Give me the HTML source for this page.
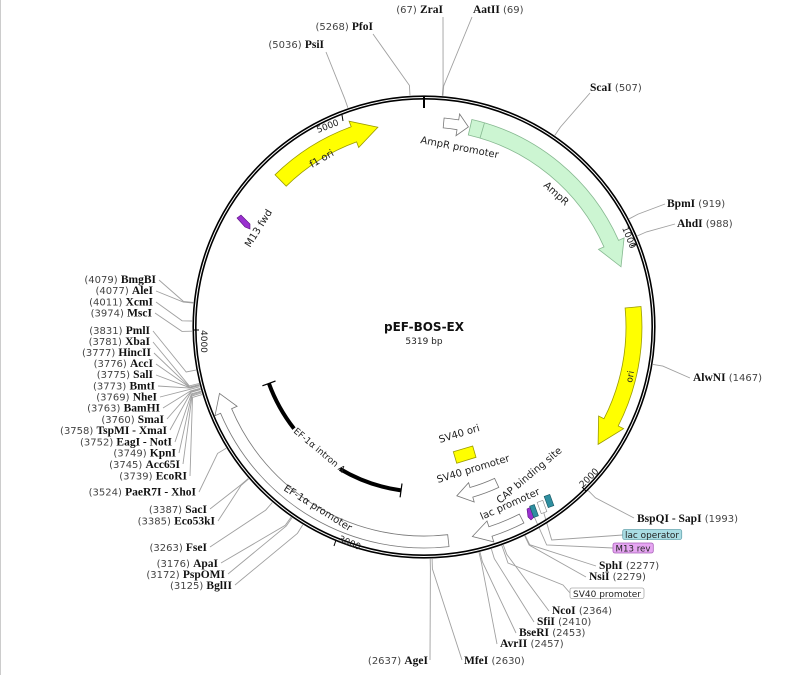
<!DOCTYPE html>
<html><head><meta charset="utf-8"><style>
html,body{margin:0;padding:0;background:#fff;}
svg{display:block;}
.n{font-family:"Liberation Serif",serif;font-weight:bold;font-size:11.5px;fill:#111;}
.p{font-family:"DejaVu Sans",sans-serif;font-size:10px;fill:#444;}
.f{font-family:"DejaVu Sans",sans-serif;font-size:10px;fill:#222;}
.b{font-family:"DejaVu Sans",sans-serif;font-size:9px;fill:#222;}
.t{font-family:"DejaVu Sans",sans-serif;font-size:9px;fill:#222;}
</style></head><body>
<svg id="s" width="800" height="675" viewBox="0 0 800 675" xmlns="http://www.w3.org/2000/svg">
<rect x="0" y="0" width="800" height="675" fill="#fff"/>
<line x1="0.5" y1="0" x2="0.5" y2="675" stroke="#ccc"/>
<g id="leaders" stroke="#a0a0a0" stroke-width="0.9" fill="none"></g>
<circle cx="424" cy="327" r="229.5" fill="none" stroke="#000" stroke-width="4.2"/>
<circle cx="424" cy="327" r="229.5" fill="none" stroke="#fff" stroke-width="1"/>
<line x1="424" y1="97" x2="424" y2="108" stroke="#000" stroke-width="2"/>
<text class="t" transform="translate(318,133) rotate(-21)">5000</text>
<line x1="342" y1="115" x2="343" y2="121" stroke="#000"/>
<text class="t" transform="translate(622,228) rotate(68)">1000</text>
<line x1="631" y1="246" x2="637" y2="244" stroke="#000"/>
<text class="t" transform="translate(583,488) rotate(-45)">2000</text>
<line x1="586" y1="491" x2="582" y2="487" stroke="#000"/>
<text class="t" transform="translate(338,541) rotate(23)">3000</text>
<line x1="336" y1="540" x2="334" y2="546" stroke="#000"/>
<text class="t" transform="translate(201,330) rotate(90)">4000</text>
<line x1="194" y1="330" x2="199" y2="330" stroke="#000"/>
<path d="M275,174.8 A213,213 0 0 1 351.2,126.8 L349.1,121.2 L377.9,127.2 L358.7,147.5 L356.6,141.9 A197,197 0 0 0 286.2,186.2 Z" fill="#ffff00" stroke="#9a9a00" stroke-width="0.8"/>
<text class="f" transform="translate(312,168) rotate(-30)">f1 ori</text>
<path d="M444.1,118 A210,210 0 0 1 458.7,119.9 L459.6,114 L468.4,126.9 L456,135.7 L457,129.7 A200,200 0 0 0 443.2,127.9 Z" fill="#fff" stroke="#777" stroke-width="0.8"/>
<text class="f" transform="translate(420,143) rotate(11)">AmpR promoter</text>
<path d="M471.9,119.5 A213,213 0 0 1 618.6,240.4 L624.1,237.9 L621,266.8 L598.5,249.3 L604,246.9 A197,197 0 0 0 468.3,135 Z" fill="#ccf5d2" stroke="#86b890" stroke-width="0.8"/>
<line x1="480" y1="138.1" x2="484.5" y2="122.8" stroke="#86b890" stroke-width="0.8"/>
<text class="f" transform="translate(543,186) rotate(42)">AmpR</text>
<path d="M641,306.5 A218,218 0 0 1 618.2,426 L623.6,428.7 L598.1,444.4 L598.6,416 L604,418.7 A202,202 0 0 0 625.1,308 Z" fill="#ffff00" stroke="#9a9a00" stroke-width="0.8"/>
<text class="t" transform="translate(632,383) rotate(-80)">ori</text>
<polygon points="453.3,451.7 472.7,446 476,457.3 456.7,463.3" fill="#ffff00" stroke="#9a9a00" stroke-width="0.8"/>
<text class="f" transform="translate(440,443) rotate(-17)">SV40 ori</text>
<path d="M498.8,487.4 A177,177 0 0 1 472.8,497.1 L474.2,502 L456.8,495.8 L468.6,482.7 L470,487.5 A167,167 0 0 0 494.6,478.4 Z" fill="#fff" stroke="#777" stroke-width="0.8"/>
<text class="f" transform="translate(438,483) rotate(-17)">SV40 promoter</text>
<path d="M523.9,523 A220,220 0 0 1 492,536.2 L493.8,541.9 L472.4,536.5 L487,521 L488.9,526.7 A210,210 0 0 0 519.3,514.1 Z" fill="#fff" stroke="#777" stroke-width="0.8"/>
<text class="f" transform="translate(482,520) rotate(-24)">lac promoter</text>
<text class="f" transform="translate(500,504) rotate(-40)">CAP binding site</text>
<polygon points="527,509 531,507 534,517 531,520 528,517" fill="#9a30d0" stroke="#5a1080" stroke-width="0.6"/>
<rect x="531.5" y="505" width="5" height="12" transform="rotate(-20 534 511)" fill="#2f8fa0" stroke="#15535e" stroke-width="0.6"/>
<rect x="539" y="501" width="6" height="12" transform="rotate(-20 542 507)" fill="#fff" stroke="#888" stroke-width="0.6"/>
<rect x="546" y="495" width="6" height="12" transform="rotate(-20 549 501)" fill="#2f8fa0" stroke="#15535e" stroke-width="0.6"/>
<path d="M449,546.6 A221,221 0 0 1 220.6,413.3 L215,415.7 L219.5,393.4 L237.1,406.3 L231.6,408.7 A209,209 0 0 0 447.7,534.7 Z" fill="#fff" stroke="#777" stroke-width="0.8"/>
<text class="f" transform="translate(283,490) rotate(32)">EF-1α promoter</text>
<g stroke="#000" fill="none">
<path d="M268.9,383.4 A165,165 0 0 0 294,428.6" stroke-width="4"/>
<path d="M340,469 A165,165 0 0 0 401,490.4" stroke-width="4"/>
<line x1="275.5" y1="381" x2="262.4" y2="385.8" stroke-width="1.2"/>
<line x1="402" y1="483.5" x2="400.1" y2="497.3" stroke-width="1.2"/>
</g>
<text class="b" transform="translate(293,432) rotate(40)">EF-1α intron A</text>
<polygon points="237,218 241,215 250,224 250,229 245,227" fill="#9a30d0" stroke="#5a1080" stroke-width="0.6"/>
<text class="f" transform="translate(250,248) rotate(-58)">M13 fwd</text>
<text x="424" y="331" text-anchor="middle" font-family="DejaVu Sans,sans-serif" font-weight="bold" font-size="12" fill="#111">pEF-BOS-EX</text>
<text x="424" y="344" text-anchor="middle" class="t">5319 bp</text>

<text x="324" y="48" text-anchor="end"><tspan class="p">(5036) </tspan><tspan class="n">PsiI</tspan></text>
<text x="373" y="30" text-anchor="end"><tspan class="p">(5268) </tspan><tspan class="n">PfoI</tspan></text>
<text x="443" y="13" text-anchor="end"><tspan class="p">(67) </tspan><tspan class="n">ZraI</tspan></text>
<text x="473" y="13"><tspan class="n">AatII</tspan><tspan class="p"> (69)</tspan></text>
<text x="590" y="91"><tspan class="n">ScaI</tspan><tspan class="p"> (507)</tspan></text>
<text x="667" y="207"><tspan class="n">BpmI</tspan><tspan class="p"> (919)</tspan></text>
<text x="677" y="227"><tspan class="n">AhdI</tspan><tspan class="p"> (988)</tspan></text>
<text x="693" y="381"><tspan class="n">AlwNI</tspan><tspan class="p"> (1467)</tspan></text>
<text x="637" y="522"><tspan class="n">BspQI - SapI</tspan><tspan class="p"> (1993)</tspan></text>
<rect x="622.7" y="529.5" width="59" height="10" rx="2" fill="#a9dce3" stroke="#6aa6b0" stroke-width="0.8"/>
<text x="625" y="537.8" class="b" textLength="54" lengthAdjust="spacingAndGlyphs">lac operator</text>
<rect x="613" y="543" width="40.3" height="10" rx="2" fill="#e6a6f2" stroke="#a860b8" stroke-width="0.8"/>
<text x="615.5" y="551.5" class="b" textLength="35" lengthAdjust="spacingAndGlyphs">M13 rev</text>
<text x="599" y="569"><tspan class="n">SphI</tspan><tspan class="p"> (2277)</tspan></text>
<text x="589" y="580"><tspan class="n">NsiI</tspan><tspan class="p"> (2279)</tspan></text>
<rect x="570" y="588" width="74" height="10.5" rx="2" fill="#fff" stroke="#aaa" stroke-width="0.8"/>
<text x="573" y="596.8" class="b" textLength="68" lengthAdjust="spacingAndGlyphs">SV40 promoter</text>
<text x="552" y="614"><tspan class="n">NcoI</tspan><tspan class="p"> (2364)</tspan></text>
<text x="537" y="625"><tspan class="n">SfiI</tspan><tspan class="p"> (2410)</tspan></text>
<text x="519" y="636"><tspan class="n">BseRI</tspan><tspan class="p"> (2453)</tspan></text>
<text x="500" y="647"><tspan class="n">AvrII</tspan><tspan class="p"> (2457)</tspan></text>
<text x="464" y="664"><tspan class="n">MfeI</tspan><tspan class="p"> (2630)</tspan></text>
<text x="428" y="664" text-anchor="end"><tspan class="p">(2637) </tspan><tspan class="n">AgeI</tspan></text>

<g text-anchor="end">
<text x="156" y="283"><tspan class="p">(4079) </tspan><tspan class="n">BmgBI</tspan></text>
<text x="153" y="294"><tspan class="p">(4077) </tspan><tspan class="n">AleI</tspan></text>
<text x="153" y="305.5"><tspan class="p">(4011) </tspan><tspan class="n">XcmI</tspan></text>
<text x="152" y="316.5"><tspan class="p">(3974) </tspan><tspan class="n">MscI</tspan></text>
<text x="150" y="334"><tspan class="p">(3831) </tspan><tspan class="n">PmlI</tspan></text>
<text x="150" y="345"><tspan class="p">(3781) </tspan><tspan class="n">XbaI</tspan></text>
<text x="151" y="356"><tspan class="p">(3777) </tspan><tspan class="n">HincII</tspan></text>
<text x="153" y="367"><tspan class="p">(3776) </tspan><tspan class="n">AccI</tspan></text>
<text x="153" y="378"><tspan class="p">(3775) </tspan><tspan class="n">SalI</tspan></text>
<text x="155" y="389.5"><tspan class="p">(3773) </tspan><tspan class="n">BmtI</tspan></text>
<text x="157" y="400.5"><tspan class="p">(3769) </tspan><tspan class="n">NheI</tspan></text>
<text x="160" y="411.5"><tspan class="p">(3763) </tspan><tspan class="n">BamHI</tspan></text>
<text x="164" y="423"><tspan class="p">(3760) </tspan><tspan class="n">SmaI</tspan></text>
<text x="167" y="434"><tspan class="p">(3758) </tspan><tspan class="n">TspMI - XmaI</tspan></text>
<text x="172" y="445.5"><tspan class="p">(3752) </tspan><tspan class="n">EagI - NotI</tspan></text>
<text x="176" y="456.5"><tspan class="p">(3749) </tspan><tspan class="n">KpnI</tspan></text>
<text x="180" y="468"><tspan class="p">(3745) </tspan><tspan class="n">Acc65I</tspan></text>
<text x="187" y="479.5"><tspan class="p">(3739) </tspan><tspan class="n">EcoRI</tspan></text>
<text x="196" y="495.5"><tspan class="p">(3524) </tspan><tspan class="n">PaeR7I - XhoI</tspan></text>
<text x="207" y="513"><tspan class="p">(3387) </tspan><tspan class="n">SacI</tspan></text>
<text x="215" y="524.5"><tspan class="p">(3385) </tspan><tspan class="n">Eco53kI</tspan></text>
<text x="207" y="551"><tspan class="p">(3263) </tspan><tspan class="n">FseI</tspan></text>
<text x="218" y="567"><tspan class="p">(3176) </tspan><tspan class="n">ApaI</tspan></text>
<text x="225" y="578"><tspan class="p">(3172) </tspan><tspan class="n">PspOMI</tspan></text>
<text x="232" y="589"><tspan class="p">(3125) </tspan><tspan class="n">BglII</tspan></text>
</g>
</svg>
<script>
(function(){
var g=document.getElementById('leaders'),cx=424,cy=327;
function P(r,bp){var a=bp/5319*2*Math.PI;return [cx+r*Math.sin(a),cy-r*Math.cos(a)];}
var L=[
[5036,326,52],[5268,373,34],[67,443,17],[69,472,17],[507,590,93],
[919,665,204],[988,675,224],[1467,690,378],[1993,634,518],
[2277,596,566],[2279,586,577],[2364,549,611],[2410,534,622],[2453,516,633],[2457,497,644],
[2630,462,660],[2637,430,660],
[4079,159,280],[4077,156,291],[4011,156,302],[3974,155,313],[3831,153,331],[3781,153,342],
[3777,154,353],[3776,156,364],[3775,156,375],[3773,158,386],[3769,160,397],[3763,163,408],
[3760,167,419],[3758,170,430],[3752,175,442],[3749,179,453],[3745,183,464],[3739,190,476],
[3524,199,492],[3387,210,509],[3385,218,521],[3263,210,547],[3176,221,563],[3172,228,574],[3125,235,585]
];
var s='';
L.forEach(function(l){var c=P(232,l[0]),e=P(242,l[0]);
s+='<path d="M'+l[1]+','+l[2]+' L'+e[0].toFixed(1)+','+e[1].toFixed(1)+' L'+c[0].toFixed(1)+','+c[1].toFixed(1)+'"/>';});
s+='<path d="M622.7,535 L551.7,540 L543,510"/>';
s+='<path d="M613,548 L546.7,545 L533,514"/>';
s+='<path d="M570,593 L563,585 L508,563 L501.7,545"/>';
g.innerHTML=s;
})();
</script>
</body></html>
